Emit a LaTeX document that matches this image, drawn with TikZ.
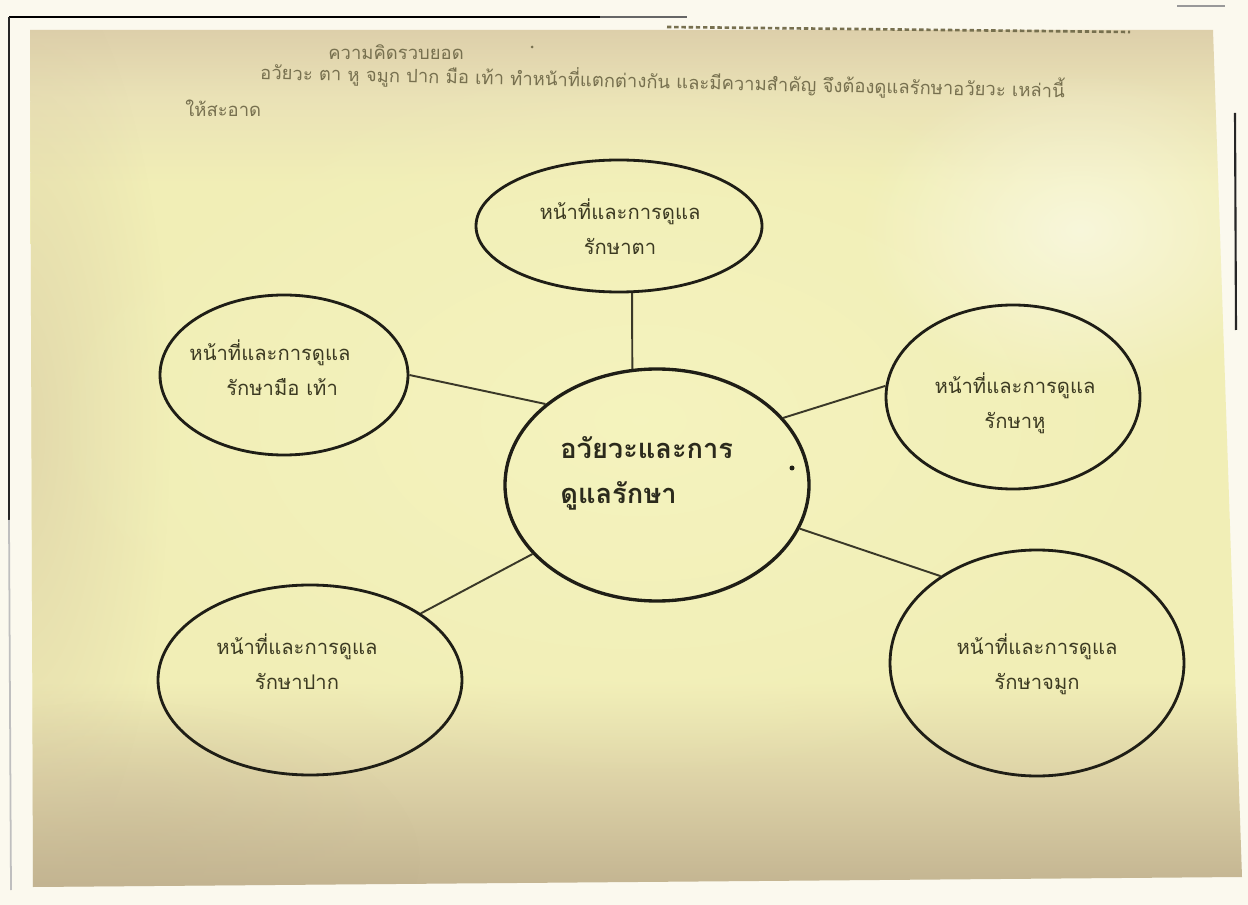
\documentclass[tikz,border=0pt]{standalone}
\usepackage{fontspec}
\newfontfamily\thai[Script=Thai]{Loma}
\usetikzlibrary{shapes.geometric,fadings}
\definecolor{bgc}{HTML}{FBF9EE}
\definecolor{ptop}{HTML}{DDCFAA}
\definecolor{ptop2}{HTML}{EAE2B6}
\definecolor{pmid}{HTML}{F1EEB6}
\definecolor{pbot2}{HTML}{DCD1A6}
\definecolor{pbot}{HTML}{C3B491}
\definecolor{glowc}{HTML}{F5F4BF}
\definecolor{edgec}{HTML}{D8CAA4}
\definecolor{hdrc}{HTML}{77704F}
\definecolor{txtc}{HTML}{3C3A22}
\definecolor{ctxt}{HTML}{2B2A1C}
\definecolor{inkc}{HTML}{1F1E16}
\definecolor{linkc}{HTML}{3A3828}
\pgfdeclareverticalshading{paperv}{100bp}{color(0bp)=(pbot); color(25bp)=(pbot); color(31bp)=(pbot2); color(37bp)=(pmid); color(66bp)=(pmid); color(71bp)=(ptop2); color(75bp)=(ptop); color(100bp)=(ptop)}
\tikzfading[name=softglow, inner color=transparent!0, outer color=transparent!100]
\def\ux{0.02cm}
\begin{document}
\begin{tikzpicture}[x=0.02cm,y=-0.02cm,
  bubble/.style={ellipse, draw=inkc, line width=1.6pt, inner sep=0pt},
  lbl/.style={font=\thai\fontsize{11.5}{20}\selectfont, text=txtc, align=center, inner sep=0pt},
  hdr/.style={font=\thai\fontsize{10.5}{14}\selectfont, text=hdrc, inner sep=0pt},
  link/.style={draw=linkc, line width=1.1pt}]
\useasboundingbox (0,0) rectangle (1248,905);
\fill[bgc] (0,0) rectangle (1248,905);
% paper
\shade[shading=paperv]
  (30,30) -- (1213,30) -- (1242,877) -- (33,887) -- cycle;
\begin{scope}
  \clip (30,30) -- (1213,30) -- (1242,877) -- (33,887) -- cycle;
  \fill[edgec, path fading=softglow, fill opacity=0.6] (20,430) ellipse (150 and 480);
  \fill[glowc, path fading=softglow, fill opacity=0.9] (640,420) ellipse (600 and 360);
  \fill[white, path fading=softglow, fill opacity=0.5] (1080,230) ellipse (220 and 160);
  \fill[pbot, path fading=softglow, fill opacity=0.35] (120,860) ellipse (300 and 160);
\end{scope}
% frame lines of the page
\draw[black, line width=1.4pt] (9,17) -- (600,17);
\draw[black!60, line width=1.2pt] (600,17) -- (687,17);
\draw[black!85, line width=1.2pt] (9,17) -- (9,520);
\draw[black!25, line width=1pt] (9,520) -- (11,890);
\draw[black!85, line width=1.2pt] (1235,113) -- (1236,330);
\draw[black!40, line width=0.8pt] (1177,6) -- (1225,6);
\draw[hdrc, line width=1.5pt, dash pattern=on 2.5pt off 1.6pt] (667,27) -- (1130,32);
% header text
\node[hdr, anchor=west] (title) at (328,52) {ความคิดรวบยอด};
\fill[hdrc] (532,47) circle (1.5);
\node[hdr, anchor=west, rotate=-1.3] (para) at (260,72) {อวัยวะ ตา หู จมูก ปาก มือ เท้า ทำหน้าที่แตกต่างกัน และมีความสำคัญ จึงต้องดูแลรักษาอวัยวะ เหล่านี้};
\node[hdr, anchor=west] (para2) at (185,108) {ให้สะอาด};
% bubbles
\node[bubble, minimum width=286*\ux, minimum height=132*\ux] (eye) at (619,226) {};
\node[bubble, minimum width=248*\ux, minimum height=160*\ux] (hand) at (284,375) {};
\node[bubble, minimum width=254*\ux, minimum height=184*\ux] (ear) at (1013,397) {};
\node[bubble, minimum width=294*\ux, minimum height=226*\ux] (nose) at (1037,663) {};
\node[bubble, minimum width=304*\ux, minimum height=190*\ux] (mouth) at (310,680) {};
\node[bubble, line width=1.9pt, minimum width=304*\ux, minimum height=232*\ux] (cen) at (657,485) {};
% labels
\node[lbl] (eyet) at (620,227) {หน้าที่และการดูแล\\รักษาตา};
\node[lbl] (handt) at (270,368) {หน้าที่และการดูแล\\\hspace*{1.2em}รักษามือ เท้า};
\node[lbl] (eart) at (1015,403) {หน้าที่และการดูแล\\รักษาหู};
\node[lbl] (noset) at (1037,664) {หน้าที่และการดูแล\\รักษาจมูก};
\node[lbl] (moutht) at (297,662) {หน้าที่และการดูแล\\รักษาปาก};
\node[font=\thai\bfseries\fontsize{15.5}{25.5}\selectfont, text=ctxt, align=left, inner sep=0pt, anchor=west] (cent) at (560,473) {อวัยวะและการ\\ดูแลรักษา};
\fill[inkc] (792,468) circle (2.5);
% connectors
\draw[link] (eye.-79) -- (cen.102);
\draw[link] (hand.0) -- (cen.144);
\draw[link] (ear.175) -- (cen.28);
\draw[link] (mouth.31) -- (cen.209);
\draw[link] (nose.138) -- (cen.-17);
\end{tikzpicture}
\end{document}
